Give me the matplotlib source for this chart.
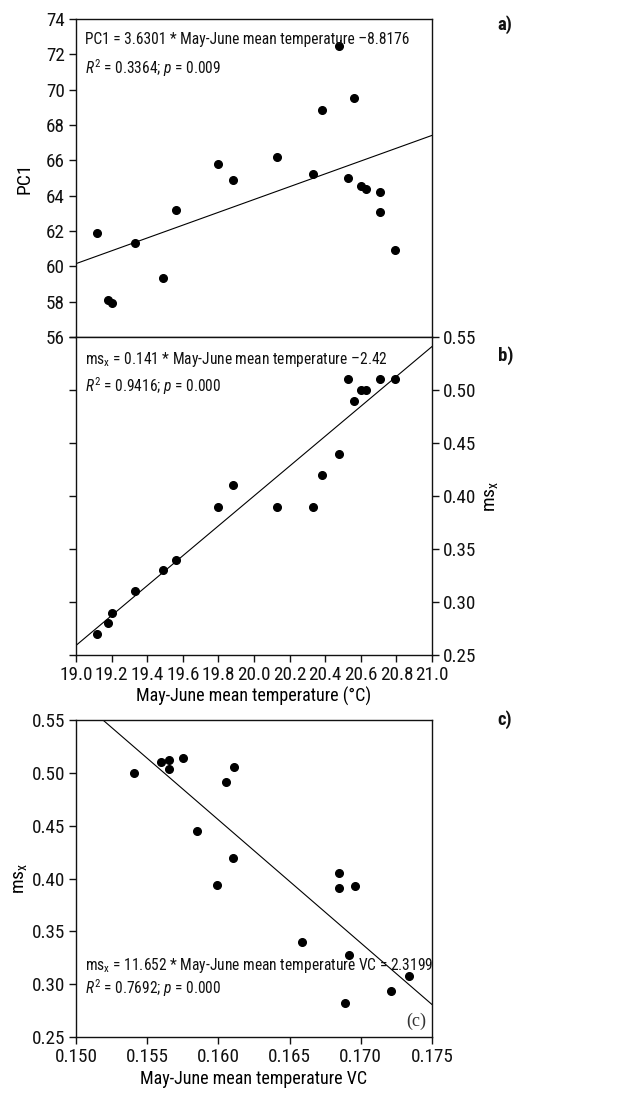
import matplotlib
matplotlib.use("Agg")
import numpy as np
import matplotlib.pyplot as plt
from matplotlib import font_manager

# narrow sans like the original; take the first one that is installed
names = {f.name for f in font_manager.fontManager.ttflist}
narrow = ['Liberation Sans Narrow', 'Arial Narrow', 'Roboto Condensed', 'Archivo Narrow',
          'PT Sans Narrow', 'Fira Sans Condensed', 'IBM Plex Sans Condensed',
          'Encode Sans Condensed', 'Asap Condensed']
fam = next((n for n in narrow if n in names), None)
if fam is None:
    fam, k = 'Liberation Sans', 0.8
else:
    k = 1.0
plt.rcParams['font.family'] = [fam, 'DejaVu Sans']
plt.rcParams['mathtext.fontset'] = 'custom'
plt.rcParams['mathtext.rm'] = fam
plt.rcParams['mathtext.it'] = fam + ':italic'

# a) PC1 vs May-June mean temperature
temp_a = [19.12, 19.18, 19.20, 19.33, 19.49, 19.56, 19.80, 19.88, 20.13, 20.33,
          20.38, 20.48, 20.53, 20.56, 20.60, 20.63, 20.71, 20.71, 20.79]
pc1 = [61.9, 58.1, 57.95, 61.35, 59.35, 63.2, 65.8, 64.9, 66.2, 65.25,
       68.85, 72.45, 65.0, 69.55, 64.55, 64.4, 64.2, 63.05, 60.95]
fit_a = (3.6301, -8.8176)

# b) ms_x vs May-June mean temperature
temp_b = [19.12, 19.18, 19.20, 19.33, 19.49, 19.56, 19.80, 19.88, 20.13, 20.33,
          20.38, 20.48, 20.53, 20.56, 20.60, 20.63, 20.71, 20.79]
msx_b = [0.27, 0.28, 0.29, 0.31, 0.33, 0.34, 0.39, 0.41, 0.39, 0.39,
         0.42, 0.44, 0.51, 0.49, 0.50, 0.50, 0.51, 0.51]
fit_b = (0.141, -2.42)

# c) ms_x vs May-June mean temperature VC
vc_c = [0.1541, 0.1560, 0.1565, 0.1565, 0.1575, 0.1585, 0.1599, 0.1605, 0.1610,
        0.1611, 0.1659, 0.1685, 0.1685, 0.1696, 0.1692, 0.1689, 0.1721, 0.1734]
msx_c = [0.500, 0.510, 0.512, 0.504, 0.514, 0.445, 0.394, 0.491, 0.419,
         0.506, 0.340, 0.405, 0.391, 0.393, 0.328, 0.282, 0.294, 0.308]
fit_c = (-11.652, 2.3199)

tick_fs = 13.8 * k
lab_fs = 13.0 * k
note_fs = 11.2 * k
pan_fs = 13.5 * k
ink = '#111111'
msx = r'ms$_\mathrm{x}$'

fig = plt.figure(figsize=(6.22, 10.96), dpi=100)
ax1 = fig.add_axes([0.1222, 0.6925, 0.5723, 0.2901])
ax2 = fig.add_axes([0.1222, 0.4024, 0.5723, 0.2901])
ax3 = fig.add_axes([0.1222, 0.0538, 0.5723, 0.2892])

for ax in (ax1, ax2, ax3):
    for s in ax.spines.values():
        s.set_linewidth(1.0)
        s.set_color(ink)
    ax.tick_params(direction='out', length=5, width=1.0, labelsize=tick_fs,
                   colors=ink, pad=3)

# ---- a)
ax1.plot(temp_a, pc1, 'o', color='k', markersize=5.5)
xx = np.array([19.0, 21.0])
ax1.plot(xx, fit_a[0] * xx + fit_a[1], color='k', lw=0.8)
ax1.set_xlim(19.0, 21.0)
ax1.set_ylim(56, 74)
ax1.set_yticks(np.arange(56, 75, 2))
ax1.set_xticks([])
ax1.set_ylabel('PC1', fontsize=lab_fs + 1, labelpad=9)
ax1.text(0.025, 0.96, 'PC1 = 3.6301 * May-June mean temperature \u20138.8176',
         transform=ax1.transAxes, fontsize=note_fs, va='top', color=ink)
ax1.text(0.025, 0.88, r'$R^2$ = 0.3364; $p$ = 0.009',
         transform=ax1.transAxes, fontsize=note_fs, va='top', color=ink)
fig.text(0.80, 0.978, 'a)', fontsize=pan_fs, fontweight='bold', va='center', color=ink)

# ---- b)
ax2.plot(temp_b, msx_b, 'o', color='k', markersize=5.5)
ax2.plot(xx, fit_b[0] * xx + fit_b[1], color='k', lw=0.8)
ax2.set_xlim(19.0, 21.0)
ax2.set_ylim(0.25, 0.55)
ax2.set_xticks(np.arange(19.0, 21.01, 0.2))
ax2.set_xticklabels(['%.1f' % v for v in np.arange(19.0, 21.01, 0.2)])
ax2.set_yticks(np.arange(0.25, 0.551, 0.05))
ax2.set_yticklabels(['%.2f' % v for v in np.arange(0.25, 0.551, 0.05)])
ax2.tick_params(axis='y', left=True, labelleft=False, right=True, labelright=True)
ax2.yaxis.set_label_position('right')
ax2.set_ylabel(msx, fontsize=lab_fs + 1, labelpad=4)
ax2.set_xlabel('May-June mean temperature (\u00b0C)', fontsize=lab_fs, labelpad=2)
ax2.text(0.025, 0.96, msx + ' = 0.141 * May-June mean temperature \u20132.42',
         transform=ax2.transAxes, fontsize=note_fs, va='top', color=ink)
ax2.text(0.025, 0.88, r'$R^2$ = 0.9416; $p$ = 0.000',
         transform=ax2.transAxes, fontsize=note_fs, va='top', color=ink)
fig.text(0.80, 0.676, 'b)', fontsize=pan_fs, fontweight='bold', va='center', color=ink)

# ---- c)
ax3.plot(vc_c, msx_c, 'o', color='k', markersize=5.5)
xc = np.array([0.150, 0.175])
ax3.plot(xc, fit_c[0] * xc + fit_c[1], color='k', lw=0.8)
ax3.set_xlim(0.150, 0.175)
ax3.set_ylim(0.25, 0.55)
ax3.set_xticks(np.arange(0.150, 0.1751, 0.005))
ax3.set_xticklabels(['%.3f' % v for v in np.arange(0.150, 0.1751, 0.005)])
ax3.set_yticks(np.arange(0.25, 0.551, 0.05))
ax3.set_yticklabels(['%.2f' % v for v in np.arange(0.25, 0.551, 0.05)])
ax3.set_ylabel(msx, fontsize=lab_fs + 1, labelpad=2)
ax3.set_xlabel('May-June mean temperature VC', fontsize=lab_fs, labelpad=3)
ax3.text(0.025, 0.225, msx + ' = 11.652 * May-June mean temperature VC = 2.3199',
         transform=ax3.transAxes, fontsize=note_fs, va='center', color=ink)
ax3.text(0.025, 0.155, r'$R^2$ = 0.7692; $p$ = 0.000',
         transform=ax3.transAxes, fontsize=note_fs, va='center', color=ink)
ax3.text(0.985, 0.05, '(c)', transform=ax3.transAxes, fontsize=13, ha='right',
         va='center', family=['Liberation Serif', 'DejaVu Serif'], color='#333333')
fig.text(0.80, 0.343, 'c)', fontsize=pan_fs, fontweight='bold', va='center', color=ink)

fig.savefig('out.png', dpi=100)
